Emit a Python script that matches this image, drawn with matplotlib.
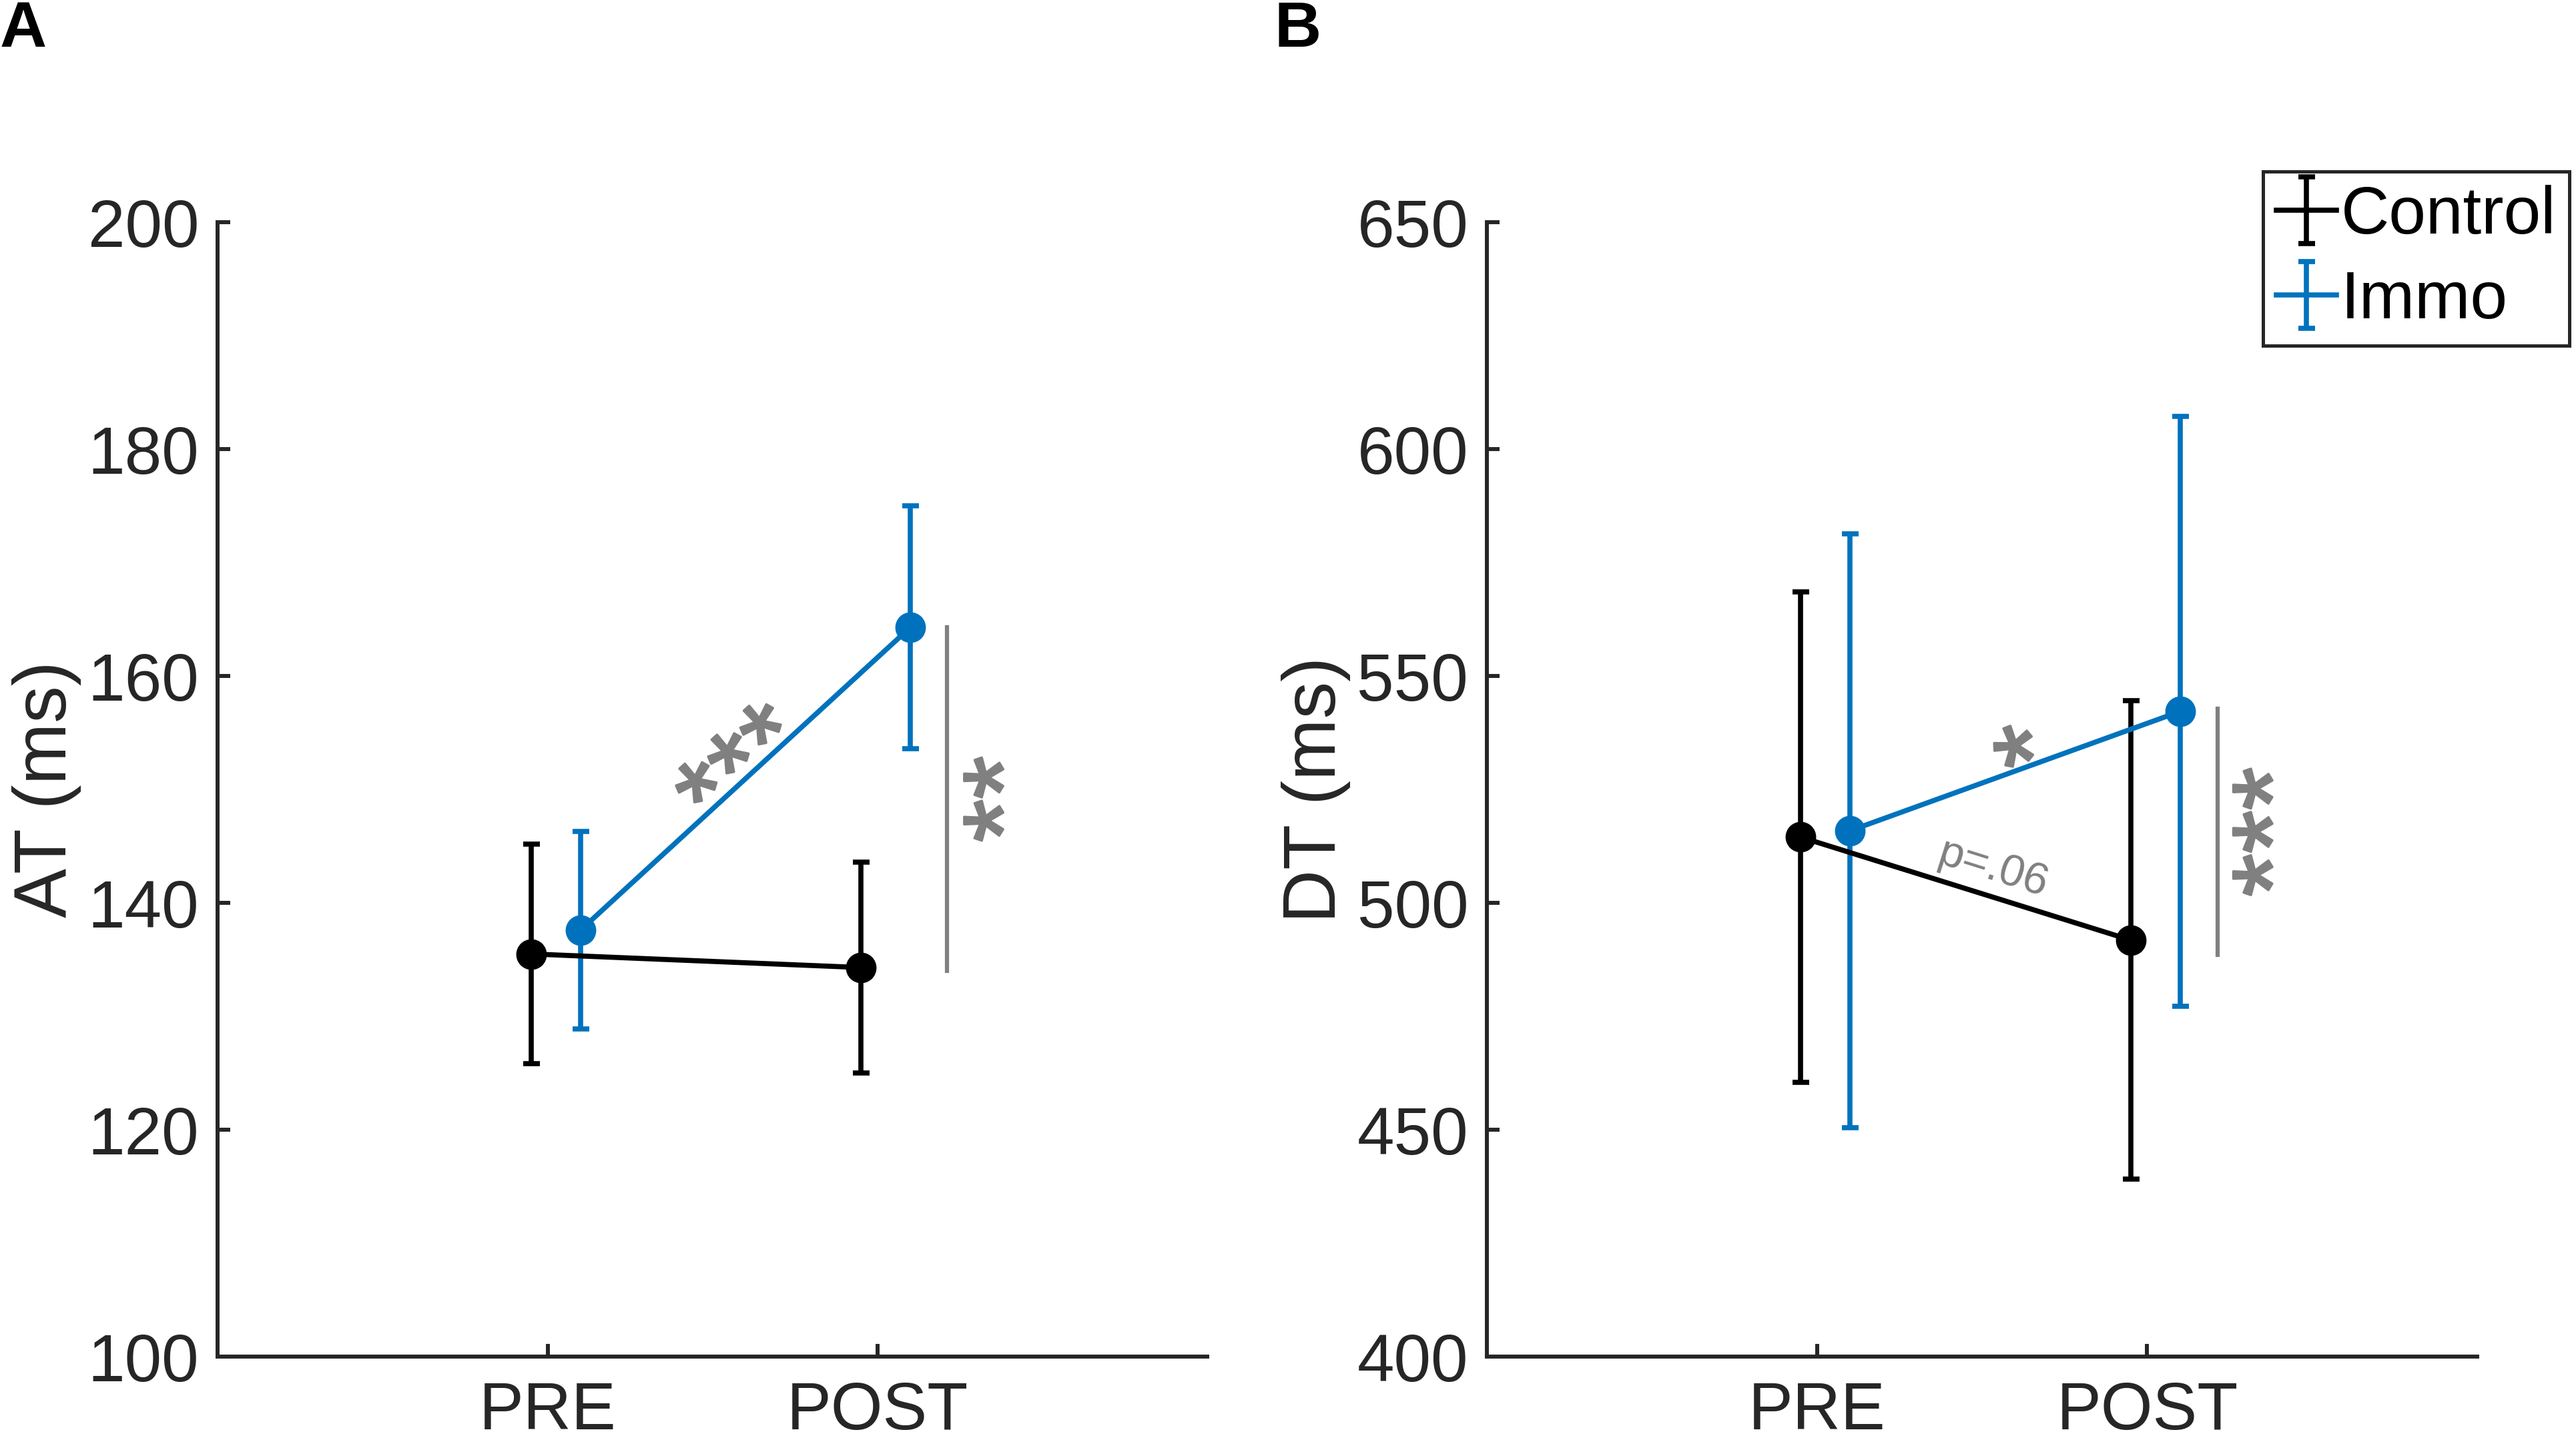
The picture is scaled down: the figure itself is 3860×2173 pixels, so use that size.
import numpy as np
import matplotlib
matplotlib.use('Agg')
import matplotlib.pyplot as plt
import matplotlib.patheffects as pe

plt.rcParams['font.family'] = ['Liberation Sans', 'DejaVu Sans']

# values
times = ['PRE', 'POST']
x_pos = [1, 2]
groups = ['Control', 'Immo']

at_mean = {'Control': [135.5, 134.3], 'Immo': [137.6, 164.3]}
at_err = {'Control': [9.7, 9.3], 'Immo': [8.7, 10.7]}
dt_mean = {'Control': [514.5, 491.8], 'Immo': [515.9, 542.2]}
dt_err = {'Control': [54.0, 52.7], 'Immo': [65.4, 65.0]}

at_ticks = [100, 120, 140, 160, 180, 200]
dt_ticks = [400, 450, 500, 550, 600, 650]

# significance bars at POST (y from, y to)
at_sig = [134.0, 164.3]
dt_sig = [488.5, 542.8]

colors = {'Control': 'black', 'Immo': '#0072BD'}
shift = {'Control': -0.05, 'Immo': 0.1}
gray = '#808080'
axcol = '#262626'

LW = 5.5
MS = 32
CAP = 9
TICKFS = 72
LABELFS = 80
STARFS = 120


def star_text(ax, x, y, s, rot, fs):
    # (x, y) = middle of the glyphs; asterisks sit high in the text box
    th = np.radians(rot)
    off = 0.32 * fs
    t = ax.annotate(s, (x, y), xytext=(off * np.sin(th), -off * np.cos(th)),
                    textcoords='offset points', ha='center', va='center',
                    rotation=rot, rotation_mode='anchor', color=gray,
                    fontsize=fs)
    # the original stars are a bit heavier than Liberation's
    t.set_path_effects([pe.withStroke(linewidth=2.5, foreground=gray)])


def draw_panel(ax, means, errs, ticks, ylab):
    for g in groups:
        xs = [p + shift[g] for p in x_pos]
        ax.errorbar(xs, means[g], yerr=errs[g], color=colors[g], lw=LW,
                    marker='o', ms=MS, capsize=CAP, capthick=LW, zorder=3)
    ax.set_xlim(0, 3)
    ax.set_ylim(ticks[0], ticks[-1])
    ax.set_xticks(x_pos)
    ax.set_xticklabels(times)
    ax.set_yticks(ticks)
    ax.spines['top'].set_visible(False)
    ax.spines['right'].set_visible(False)
    for sp in ['left', 'bottom']:
        ax.spines[sp].set_linewidth(4.3)
        ax.spines[sp].set_color(axcol)
    ax.tick_params(direction='in', length=14, width=4.3, color=axcol,
                   labelcolor=axcol, labelsize=TICKFS)
    ax.tick_params(axis='x', pad=26)
    ax.tick_params(axis='y', pad=20)
    ax.set_ylabel(ylab, fontsize=LABELFS, color=axcol)
    ax.yaxis.set_label_coords(-0.1376, 0.5)


fig = plt.figure(figsize=(38.6, 21.73), dpi=100)
ax1 = fig.add_axes([0.0845, 0.0644, 0.3842, 0.7823])
ax2 = fig.add_axes([0.5772, 0.0644, 0.3845, 0.7823])

draw_panel(ax1, at_mean, at_err, at_ticks, 'AT (ms)')
draw_panel(ax2, dt_mean, dt_err, dt_ticks, 'DT (ms)')

# significance marks
ax1.plot([2.21, 2.21], at_sig, color=gray, lw=4.5)
star_text(ax1, 2.30, np.mean(at_sig), '**', 90, STARFS)
star_text(ax1, 1.53, 153.8, '***', 42, STARFS)

ax2.plot([2.213, 2.213], dt_sig, color=gray, lw=4.5)
star_text(ax2, 2.298, np.mean(dt_sig), '***', 90, STARFS)
star_text(ax2, 1.588, 536.2, '*', 21, STARFS)
ax2.text(1.534, 507.4, 'p=.06', color=gray, fontsize=48, ha='center',
         va='center', rotation=-17.5, rotation_mode='anchor')

# legend with error-bar style handles only
handles = []
for g in groups:
    h = ax2.errorbar([np.nan], [np.nan], yerr=[1], color=colors[g], lw=LW,
                     capsize=CAP, capthick=LW, label=g)
    handles.append(h)
leg = ax2.legend(handles, groups, loc='upper right',
                 bbox_to_anchor=(0.9974, 0.8817),
                 bbox_transform=fig.transFigure, borderaxespad=0,
                 fontsize=TICKFS, handlelength=0.9, handletextpad=0.07,
                 borderpad=0.2, labelspacing=0.33, fancybox=False,
                 framealpha=1)
leg.get_frame().set_edgecolor(axcol)
leg.get_frame().set_linewidth(3.6)

fig.text(0.0, 0.9678, 'A', fontsize=70, fontweight='bold', va='baseline')
fig.text(0.4948, 0.9678, 'B', fontsize=70, fontweight='bold', va='baseline')

fig.savefig('out.png', dpi=100)
